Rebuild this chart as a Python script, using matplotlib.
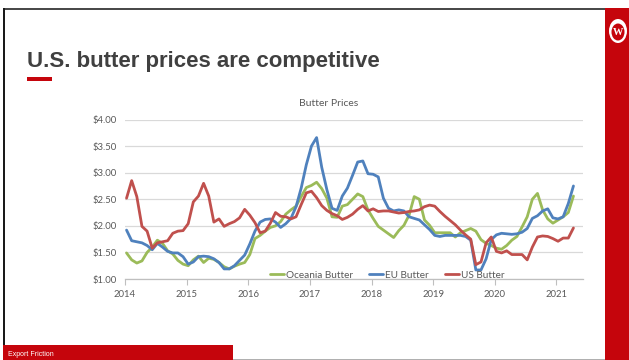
import matplotlib
matplotlib.use("Agg")
import matplotlib.pyplot as plt
from matplotlib.patches import Rectangle, Ellipse
import numpy as np

# Monthly butter prices (USD per lb), January 2014 onward
oceania_butter = [
    1.49, 1.36, 1.30, 1.34, 1.50, 1.60, 1.73, 1.67, 1.53, 1.47, 1.35, 1.28,
    1.25, 1.36, 1.43, 1.31, 1.39, 1.37, 1.31, 1.23, 1.19, 1.24, 1.28, 1.31,
    1.46, 1.76, 1.82, 1.90, 1.97, 2.00, 2.08, 2.22, 2.30, 2.37, 2.55, 2.72,
    2.76, 2.82, 2.70, 2.52, 2.17, 2.16, 2.37, 2.40, 2.50, 2.60, 2.55, 2.30,
    2.14, 1.99, 1.92, 1.85, 1.78, 1.91, 2.01, 2.20, 2.55, 2.50, 2.11, 2.01,
    1.87, 1.87, 1.87, 1.87, 1.79, 1.87, 1.91, 1.95, 1.90, 1.74, 1.67, 1.63,
    1.58, 1.56, 1.63, 1.73, 1.80, 1.98, 2.17, 2.50, 2.61, 2.30, 2.13, 2.05,
    2.11, 2.17, 2.25, 2.56,
]
eu_butter = [
    1.92, 1.72, 1.70, 1.68, 1.63, 1.55, 1.67, 1.60, 1.52, 1.49, 1.49, 1.42,
    1.28, 1.32, 1.42, 1.43, 1.42, 1.38, 1.31, 1.19, 1.19, 1.25, 1.35, 1.45,
    1.66, 1.90, 2.07, 2.12, 2.13, 2.07, 1.97, 2.04, 2.14, 2.36, 2.71, 3.15,
    3.50, 3.66, 3.10, 2.68, 2.33, 2.29, 2.56, 2.71, 2.95, 3.20, 3.22, 2.98,
    2.97, 2.92, 2.52, 2.33, 2.28, 2.30, 2.28, 2.17, 2.14, 2.11, 2.02, 1.93,
    1.82, 1.80, 1.82, 1.82, 1.82, 1.82, 1.80, 1.73, 1.17, 1.17, 1.38, 1.74,
    1.83, 1.86, 1.85, 1.84, 1.85, 1.88, 1.95, 2.14, 2.19, 2.28, 2.32, 2.15,
    2.13, 2.17, 2.42, 2.75,
]
us_butter = [
    2.52, 2.85, 2.55, 1.99, 1.90, 1.58, 1.68, 1.70, 1.72, 1.86, 1.90, 1.91,
    2.04, 2.45, 2.56, 2.80, 2.56, 2.07, 2.13, 1.99, 2.04, 2.08, 2.15, 2.31,
    2.20, 2.06, 1.87, 1.90, 2.05, 2.25, 2.18, 2.17, 2.13, 2.17, 2.40, 2.62,
    2.65, 2.53, 2.38, 2.29, 2.23, 2.19, 2.12, 2.16, 2.22, 2.31, 2.38, 2.28,
    2.32, 2.27, 2.28, 2.28, 2.26, 2.24, 2.25, 2.27, 2.28, 2.30, 2.36, 2.39,
    2.37, 2.27, 2.18, 2.10, 2.02, 1.92, 1.83, 1.75, 1.27, 1.32, 1.68, 1.79,
    1.52, 1.49, 1.53, 1.46, 1.46, 1.46, 1.36, 1.60, 1.79, 1.81, 1.80, 1.76,
    1.71, 1.77, 1.77, 1.96,
]
series_names = ["Oceania Butter", "EU Butter", "US Butter"]
series_colors = ["#9BBB59", "#4F81BD", "#C0504D"]

year_ticks = [2014, 2015, 2016, 2017, 2018, 2019, 2020, 2021]
price_ticks = [1.0, 1.5, 2.0, 2.5, 3.0, 3.5, 4.0]

W, H = 629, 360
UW_RED = "#C5050C"
TEXT_GRAY = "#595959"


def fx(x):
    return x / W


def fy(y):
    return 1 - y / H


fig = plt.figure(figsize=(W / 100, H / 100), dpi=100)
fig.patch.set_facecolor("white")


def rect(x0, y0, x1, y1, color, z=0):
    fig.add_artist(Rectangle((fx(x0), fy(y1)), fx(x1 - x0), (y1 - y0) / H,
                             transform=fig.transFigure, facecolor=color,
                             edgecolor="none", zorder=z))


# Slide frame
rect(3, 7.5, 605, 9.5, "#4a4a4a")
rect(3, 7.5, 5, 360, "#1a1a1a")
rect(605, 7.5, 629, 360, UW_RED)
rect(233, 358.5, 605, 360, "#b0b0b0")
rect(3, 345, 233, 360, UW_RED, z=1)
rect(27, 77, 52, 81, UW_RED)

# Crest in the red side bar
fig.add_artist(Ellipse((fx(618), fy(31)), 18 / W, 24 / H, transform=fig.transFigure,
                       facecolor="white", edgecolor="none", zorder=2))
fig.add_artist(Ellipse((fx(618), fy(32)), 13 / W, 17 / H, transform=fig.transFigure,
                       facecolor=UW_RED, edgecolor="none", zorder=3))
fig.text(fx(618), fy(32.5), "W", ha="center", va="center", color="white",
         fontsize=7.5, fontweight="bold", family="Liberation Serif", zorder=4)

# Slide title and footer
fig.text(fx(27), fy(67), "U.S. butter prices are competitive", ha="left",
         va="baseline", color="#404040", fontsize=16, fontweight="bold",
         family="Liberation Sans")
fig.text(fx(8), fy(354.5), "Export Friction", ha="left", va="center",
         color="white", fontsize=5, family="Liberation Sans", zorder=2)

# Chart
ax = fig.add_axes([fx(125), fy(279), fx(583) - fx(125), (279 - 119.5) / H])
months = np.arange(len(us_butter))
dates = 2014 + (months + 0.3) / 12

for vals, name, color in zip([oceania_butter, eu_butter, us_butter],
                             series_names, series_colors):
    ax.plot(dates, vals, color=color, lw=2.0, label=name, solid_joinstyle="round",
            solid_capstyle="round")

ax.set_xlim(2014, 2021.43)
ax.set_ylim(1.0, 4.0)
ax.set_yticks(price_ticks)
ax.set_yticklabels([f"${v:.2f}" for v in price_ticks])
ax.set_xticks(year_ticks)
ax.set_xticklabels([str(y) for y in year_ticks])
ax.grid(axis="y", color="#d9d9d9", lw=0.9)
ax.set_axisbelow(True)
for side in ["top", "right", "left"]:
    ax.spines[side].set_visible(False)
ax.spines["bottom"].set_color("#bfbfbf")
ax.spines["bottom"].set_linewidth(0.9)
ax.tick_params(axis="y", length=0, pad=6, labelsize=6.8, labelcolor=TEXT_GRAY)
ax.tick_params(axis="x", length=4, width=0.8, color="#bfbfbf", pad=4,
               labelsize=6.8, labelcolor=TEXT_GRAY)
for lab in ax.get_xticklabels() + ax.get_yticklabels():
    lab.set_family("Lato")

ax.set_title("Butter Prices", fontsize=7.5, color=TEXT_GRAY, family="Lato", pad=10)
ax.title.set_position((0.445, 1.0))

leg = ax.legend(loc="lower center", bbox_to_anchor=(0.573, -0.06), ncol=3,
                frameon=False, handlelength=1.4, handletextpad=0.2,
                columnspacing=1.6, prop={"family": "Lato", "size": 7.2})
for t in leg.get_texts():
    t.set_color(TEXT_GRAY)

fig.savefig("out.png", dpi=100, facecolor="white")
